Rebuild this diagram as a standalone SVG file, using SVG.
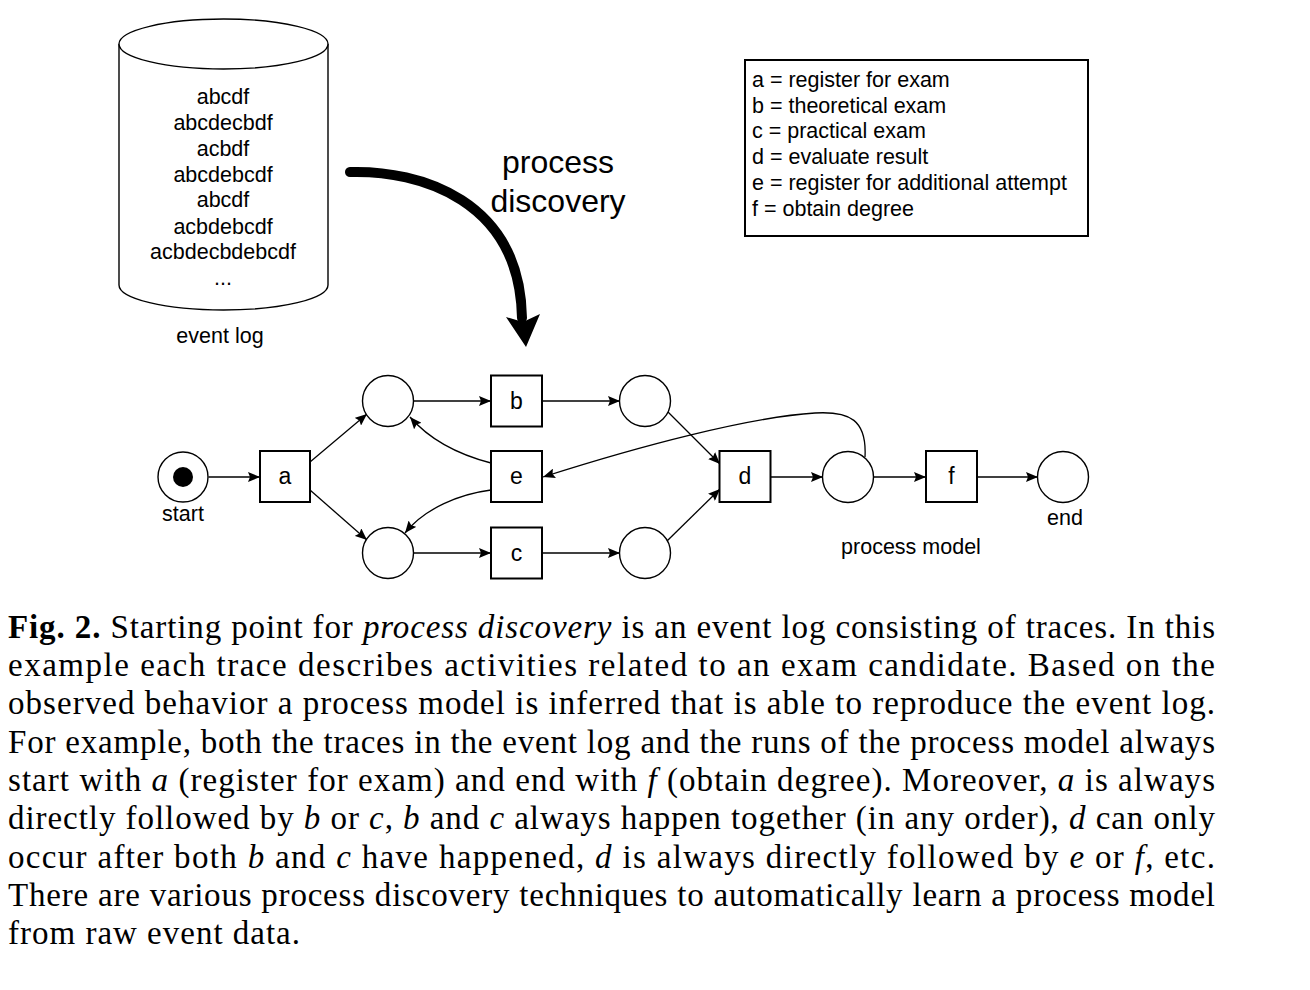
<svg xmlns="http://www.w3.org/2000/svg" width="1310" height="990" viewBox="0 0 1310 990">
<style>
.sans{font-family:"Liberation Sans",Arial,Helvetica,sans-serif;fill:#000}
.t{font-size:21.5px}
.lbl{font-size:23px;text-anchor:middle}
.mid{text-anchor:middle}
.place{fill:#fff;stroke:#000;stroke-width:1.4}
.trans{fill:#fff;stroke:#000;stroke-width:2}
.arc{fill:none;stroke:#000;stroke-width:1.3;marker-end:url(#ah)}
.cap{font-family:"Liberation Serif","Times New Roman",serif;font-size:33px;fill:#000}
.it{font-style:italic}
</style>
<defs>
<marker id="ah" viewBox="0 0 12 10" refX="12" refY="5" markerWidth="12" markerHeight="10" markerUnits="userSpaceOnUse" orient="auto">
<path d="M0,0 L12,5 L0,10 L2,5 z" fill="#000"/>
</marker>
</defs>
<rect width="1310" height="990" fill="#fff"/>

<g id="event-log">
<path d="M119,44 L119,285 A104.5,25 0 0 0 328,285 L328,44" fill="#fff" stroke="#000" stroke-width="1.4"/>
<ellipse cx="223.5" cy="44" rx="104.5" ry="25" fill="#fff" stroke="#000" stroke-width="1.4"/>
<g class="sans t mid">
<text x="223" y="104">abcdf</text>
<text x="223" y="130">abcdecbdf</text>
<text x="223" y="156">acbdf</text>
<text x="223" y="182">abcdebcdf</text>
<text x="223" y="207">abcdf</text>
<text x="223" y="234">acbdebcdf</text>
<text x="223" y="259">acbdecbdebcdf</text>
<text x="223" y="285">...</text>
<text x="220" y="343">event log</text>
</g>
</g>

<g id="discovery-arrow">
<path d="M350,172 C420,170 520,200 522,318" fill="none" stroke="#000" stroke-width="10" stroke-linecap="round"/>
<polygon points="506,317 523,322 540,314 526,347" fill="#000"/>
<text class="sans mid" font-size="32" x="558" y="173">process</text>
<text class="sans mid" font-size="32" x="558" y="212">discovery</text>
</g>

<g id="legend">
<rect x="745" y="60" width="343" height="176" fill="#fff" stroke="#000" stroke-width="2"/>
<g class="sans t">
<text x="752" y="87">a = register for exam</text>
<text x="752" y="113">b = theoretical exam</text>
<text x="752" y="138">c = practical exam</text>
<text x="752" y="164">d = evaluate result</text>
<text x="752" y="190">e = register for additional attempt</text>
<text x="752" y="216">f = obtain degree</text>
</g>
</g>

<g id="connectors">
<path class="arc" d="M208.5,477 L260,477"/>
<path class="arc" d="M310,462 L367,414"/>
<path class="arc" d="M310,490 L367,540"/>
<path class="arc" d="M413,401 L491,401"/>
<path class="arc" d="M542,401 L620,401"/>
<path class="arc" d="M413,553 L491,553"/>
<path class="arc" d="M542,553 L620,553"/>
<path class="arc" d="M668,412 L720,464"/>
<path class="arc" d="M667,541 L720,489"/>
<path class="arc" d="M770,477 L823,477"/>
<path class="arc" d="M873,477 L926,477"/>
<path class="arc" d="M977,477 L1038,477"/>
<path class="arc" d="M865,457 C867,420 850,411 815,413 C750,417 640,446 543,477"/>
<path class="arc" d="M491,463 C460,455 430,440 410,417"/>
<path class="arc" d="M491,490 C460,494 425,508 405,533"/>
</g>

<g id="start">
<circle class="place" cx="183" cy="477" r="25"/>
<circle cx="183" cy="477" r="10" fill="#000"/>
<text class="sans t mid" x="183" y="521">start</text>
</g>
<g id="a"><rect class="trans" x="260" y="451" width="50" height="51"/><text class="sans lbl" x="285" y="484">a</text></g>
<g id="p1"><circle class="place" cx="388" cy="401" r="25.5"/></g>
<g id="p2"><circle class="place" cx="388" cy="553" r="25.5"/></g>
<g id="b"><rect class="trans" x="491" y="375.5" width="51" height="51"/><text class="sans lbl" x="516.5" y="409">b</text></g>
<g id="e"><rect class="trans" x="491" y="451" width="51" height="51"/><text class="sans lbl" x="516.5" y="484">e</text></g>
<g id="c"><rect class="trans" x="491" y="527.5" width="51" height="51"/><text class="sans lbl" x="516.5" y="561">c</text></g>
<g id="p3"><circle class="place" cx="645" cy="401" r="25.5"/></g>
<g id="p4"><circle class="place" cx="645" cy="553" r="25.5"/></g>
<g id="d"><rect class="trans" x="719.5" y="451" width="51" height="51"/><text class="sans lbl" x="745" y="484">d</text></g>
<g id="p5"><circle class="place" cx="848" cy="477" r="25.5"/></g>
<g id="f"><rect class="trans" x="926" y="451" width="51" height="51"/><text class="sans lbl" x="951.5" y="484">f</text></g>
<g id="end">
<circle class="place" cx="1063" cy="477" r="25.5"/>
<text class="sans t mid" x="1065" y="525">end</text>
</g>
<text id="process-model-label" class="sans t mid" x="911" y="554">process model</text>

<g id="caption" class="cap">
<text x="8" y="638" textLength="1207" lengthAdjust="spacing"><tspan font-weight="bold">Fig. 2.</tspan> Starting point for <tspan class="it">process discovery</tspan> is an event log consisting of traces. In this</text>
<text x="8" y="676" textLength="1207" lengthAdjust="spacing">example each trace describes activities related to an exam candidate. Based on the</text>
<text x="8" y="714" textLength="1207" lengthAdjust="spacing">observed behavior a process model is inferred that is able to reproduce the event log.</text>
<text x="8" y="753" textLength="1207" lengthAdjust="spacing">For example, both the traces in the event log and the runs of the process model always</text>
<text x="8" y="791" textLength="1207" lengthAdjust="spacing">start with <tspan class="it">a</tspan> (register for exam) and end with <tspan class="it">f</tspan> (obtain degree). Moreover, <tspan class="it">a</tspan> is always</text>
<text x="8" y="829" textLength="1207" lengthAdjust="spacing">directly followed by <tspan class="it">b</tspan> or <tspan class="it">c</tspan>, <tspan class="it">b</tspan> and <tspan class="it">c</tspan> always happen together (in any order), <tspan class="it">d</tspan> can only</text>
<text x="8" y="868" textLength="1207" lengthAdjust="spacing">occur after both <tspan class="it">b</tspan> and <tspan class="it">c</tspan> have happened, <tspan class="it">d</tspan> is always directly followed by <tspan class="it">e</tspan> or <tspan class="it">f</tspan>, etc.</text>
<text x="8" y="906" textLength="1207" lengthAdjust="spacing">There are various process discovery techniques to automatically learn a process model</text>
<text x="8" y="944" textLength="292" lengthAdjust="spacing">from raw event data.</text>
</g>
</svg>
